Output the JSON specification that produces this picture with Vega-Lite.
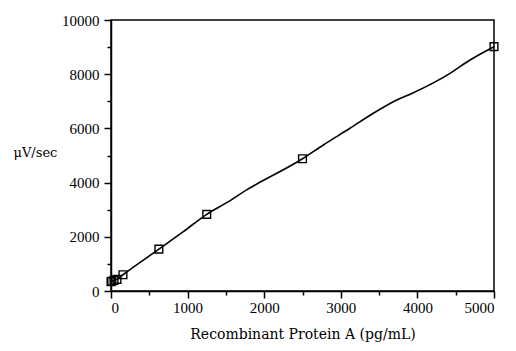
{
  "$schema": "https://vega.github.io/schema/vega-lite/v6.json",
  "width": 383,
  "height": 271,
  "autosize": {"type": "none"},
  "padding": {"left": 111, "top": 20, "right": 22, "bottom": 60},
  "background": "white",
  "config": {
    "font": "Liberation Serif",
    "view": {"stroke": "black", "strokeWidth": 1.5},
    "axis": {
      "grid": false,
      "domainColor": "black",
      "domainWidth": 1.5,
      "tickColor": "black",
      "tickWidth": 1.5,
      "labelColor": "black",
      "labelFont": "Liberation Serif",
      "labelFontSize": 15,
      "titleFont": "DejaVu Serif",
      "titleFontSize": 14,
      "titleFontWeight": "normal",
      "titleColor": "black"
    }
  },
  "datasets": {
    "points": [
      {"conc": 0, "signal": 340},
      {"conc": 10, "signal": 360},
      {"conc": 39, "signal": 390},
      {"conc": 78, "signal": 430},
      {"conc": 156, "signal": 600},
      {"conc": 625, "signal": 1545},
      {"conc": 1250, "signal": 2830},
      {"conc": 2500, "signal": 4880},
      {"conc": 5000, "signal": 9015}
    ],
    "curve": [
      {"conc": 0, "signal": 340},
      {"conc": 39, "signal": 390},
      {"conc": 78, "signal": 430},
      {"conc": 156, "signal": 600},
      {"conc": 625, "signal": 1545},
      {"conc": 944, "signal": 2190},
      {"conc": 1250, "signal": 2830},
      {"conc": 1510, "signal": 3260},
      {"conc": 1771, "signal": 3730},
      {"conc": 2500, "signal": 4880},
      {"conc": 2772, "signal": 5387},
      {"conc": 3120, "signal": 6004},
      {"conc": 3424, "signal": 6557},
      {"conc": 3730, "signal": 7048},
      {"conc": 3947, "signal": 7317},
      {"conc": 4426, "signal": 8033},
      {"conc": 4687, "signal": 8524},
      {"conc": 5000, "signal": 9015}
    ]
  },
  "encoding": {
    "x": {
      "field": "conc",
      "type": "quantitative",
      "scale": {"domain": [0, 5000], "nice": false, "zero": false},
      "axis": {
        "title": "Recombinant Protein A (pg/mL)",
        "values": [0, 500, 1000, 1500, 2000, 2500, 3000, 3500, 4000, 4500, 5000],
        "labelExpr": "datum.value % 1000 === 0 ? datum.label : ''",
        "format": "d",
        "tickSize": {"condition": {"test": "datum.value % 1000 === 0", "value": 7}, "value": 4},
        "labelPadding": 2,
        "labelDx": -4,
        "titlePadding": 12
      }
    },
    "y": {
      "field": "signal",
      "type": "quantitative",
      "scale": {"domain": [0, 10000], "nice": false},
      "axis": {
        "title": "μV/sec",
        "titleFontSize": 13,
        "titleAngle": 0,
        "titleAlign": "left",
        "titleBaseline": "alphabetic",
        "titleX": -98,
        "titleY": 136,
        "values": [0, 1000, 2000, 3000, 4000, 5000, 6000, 7000, 8000, 9000, 10000],
        "labelExpr": "datum.value % 2000 === 0 ? datum.label : ''",
        "format": "d",
        "tickSize": {"condition": {"test": "datum.value % 2000 === 0", "value": 7}, "value": 4},
        "labelPadding": 5
      }
    }
  },
  "layer": [
    {
      "data": {"name": "curve"},
      "mark": {"type": "line", "color": "black", "strokeWidth": 1.6, "interpolate": "monotone"}
    },
    {
      "data": {"name": "points"},
      "mark": {"type": "square", "filled": false, "color": "black", "strokeWidth": 1.4, "size": 60, "opacity": 1}
    }
  ]
}
